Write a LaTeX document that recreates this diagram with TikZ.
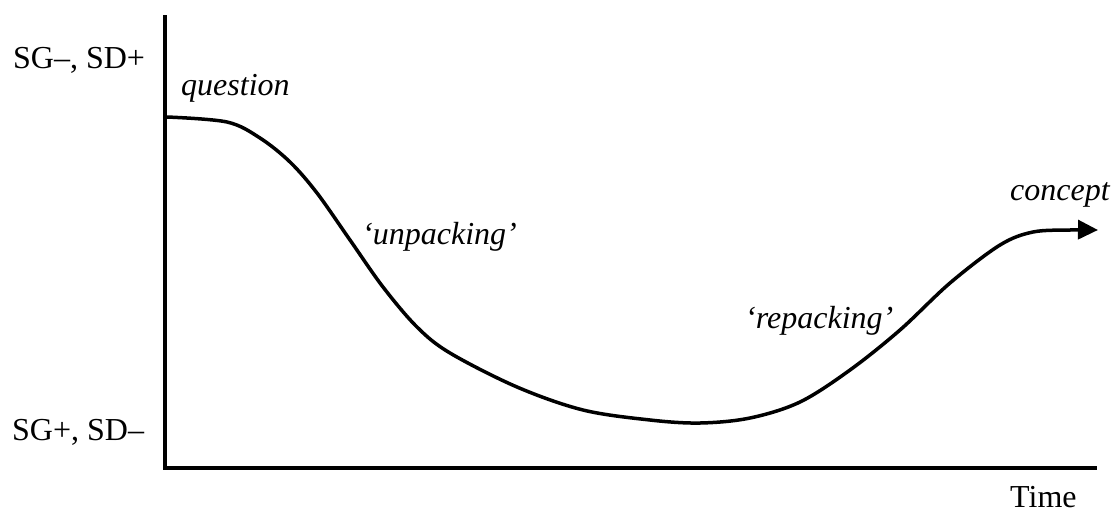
\documentclass[tikz,border=0pt]{standalone}
\usepackage{fontspec}
\setmainfont{Liberation Serif}
\usetikzlibrary{arrows.meta}
\begin{document}
\begin{tikzpicture}[x=1pt,y=-1pt,
  lbl/.style={inner sep=0pt,anchor=base west,font=\fontsize{32}{38}\selectfont},
  ilbl/.style={lbl,font=\fontsize{32}{38}\selectfont\itshape},
  axis/.style={line width=4pt,line join=miter},
  curve/.style={line width=3.5pt,line cap=butt,-{Triangle[length=20pt,width=19pt]}}]
\useasboundingbox (0,0) rectangle (1117,512);
\coordinate (ytop) at (165,15);
\coordinate (origin) at (165,468);
\coordinate (xend) at (1097,468);
\draw[axis] (ytop) -- (origin) -- (xend);
\coordinate (cstart) at (167,117);
\coordinate (cend) at (1098,230);
\draw[curve] plot[smooth,tension=0.55] coordinates {(167,117) (227,122) (260,138) (290,162) (317,193) (350,240) (383,287) (417,327) (450,353) (517,387) (583,410) (650,420) (700,423) (750,418) (800,402) (850,370) (900,330) (950,283) (1000,245) (1033,232) (1070,230) (1098,230)};
\node[lbl] (sgm) at (13,68) {SG–, SD+};
\node[lbl] (sgp) at (12,440) {SG+, SD–};
\node[ilbl] (q) at (181,95) {question};
\node[ilbl] (unp) at (362,244) {‘unpacking’};
\node[ilbl] (rep) at (745,328) {‘repacking’};
\node[ilbl] (con) at (1010,200) {concept};
\node[lbl] (time) at (1010,507) {Time};
\end{tikzpicture}
\end{document}
